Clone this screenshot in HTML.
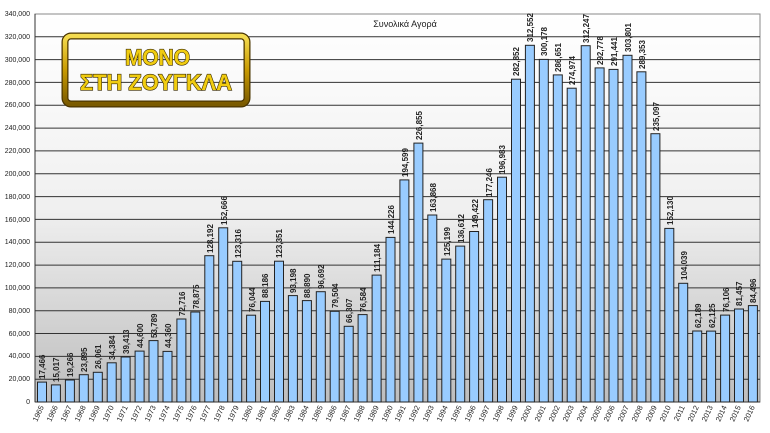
<!DOCTYPE html>
<html><head><meta charset="utf-8"><style>
body{margin:0;background:#fff;}
svg{display:block;font-family:"Liberation Sans",sans-serif;}
</style></head><body>
<svg width="770" height="433" viewBox="0 0 770 433">
<defs>
<linearGradient id="bg" x1="0" y1="0" x2="0" y2="1">
<stop offset="0" stop-color="#ffffff"/><stop offset="0.5" stop-color="#f0f0f0"/><stop offset="1" stop-color="#bdbdbd"/>
</linearGradient>
<linearGradient id="gold" x1="0" y1="0" x2="0" y2="1">
<stop offset="0" stop-color="#f5dc50"/><stop offset="0.5" stop-color="#c89a00"/><stop offset="1" stop-color="#7a5a00"/>
</linearGradient>
</defs>
<rect x="35" y="14" width="725" height="388" fill="url(#bg)" stroke="#888" stroke-width="1"/>
<g stroke="#333" stroke-width="1">
<line x1="35" y1="36.8" x2="760" y2="36.8"/><line x1="35" y1="59.6" x2="760" y2="59.6"/><line x1="35" y1="82.4" x2="760" y2="82.4"/><line x1="35" y1="105.3" x2="760" y2="105.3"/><line x1="35" y1="128.1" x2="760" y2="128.1"/><line x1="35" y1="150.9" x2="760" y2="150.9"/><line x1="35" y1="173.8" x2="760" y2="173.8"/><line x1="35" y1="196.6" x2="760" y2="196.6"/><line x1="35" y1="219.4" x2="760" y2="219.4"/><line x1="35" y1="242.2" x2="760" y2="242.2"/><line x1="35" y1="265.1" x2="760" y2="265.1"/><line x1="35" y1="287.9" x2="760" y2="287.9"/><line x1="35" y1="310.7" x2="760" y2="310.7"/><line x1="35" y1="333.5" x2="760" y2="333.5"/><line x1="35" y1="356.4" x2="760" y2="356.4"/><line x1="35" y1="379.2" x2="760" y2="379.2"/>
<line x1="35" y1="14" x2="35" y2="402"/><line x1="35" y1="402" x2="760" y2="402"/>
</g>
<g font-size="7" fill="#222" text-anchor="end">
<text x="30" y="16">340,000</text><text x="30" y="39">320,000</text><text x="30" y="62">300,000</text><text x="30" y="85">280,000</text><text x="30" y="107">260,000</text><text x="30" y="130">240,000</text><text x="30" y="153">220,000</text><text x="30" y="176">200,000</text><text x="30" y="199">180,000</text><text x="30" y="222">160,000</text><text x="30" y="244">140,000</text><text x="30" y="267">120,000</text><text x="30" y="290">100,000</text><text x="30" y="313">80,000</text><text x="30" y="336">60,000</text><text x="30" y="358">40,000</text><text x="30" y="381">20,000</text><text x="30" y="404">0</text>
</g>
<text x="405" y="27" font-size="9" text-anchor="middle" fill="#222">Συνολικά Αγορά</text>
<g fill="#99ccff" stroke="#222" stroke-width="1">
<rect x="37.5" y="382.1" width="9" height="19.9"/><rect x="51.4" y="384.9" width="9" height="17.1"/><rect x="65.4" y="380" width="9" height="22"/><rect x="79.3" y="374.7" width="9" height="27.3"/><rect x="93.3" y="372.3" width="9" height="29.7"/><rect x="107.2" y="362.8" width="9" height="39.2"/><rect x="121.1" y="357" width="9" height="45"/><rect x="135.1" y="351.1" width="9" height="50.9"/><rect x="149" y="340.6" width="9" height="61.4"/><rect x="163" y="351.4" width="9" height="50.6"/><rect x="176.9" y="319" width="9" height="83"/><rect x="190.8" y="312" width="9" height="90"/><rect x="204.8" y="255.7" width="9" height="146.3"/><rect x="218.7" y="227.8" width="9" height="174.2"/><rect x="232.7" y="261.3" width="9" height="140.7"/><rect x="246.6" y="315.2" width="9" height="86.8"/><rect x="260.5" y="301.4" width="9" height="100.6"/><rect x="274.5" y="261.2" width="9" height="140.8"/><rect x="288.4" y="295.6" width="9" height="106.4"/><rect x="302.4" y="300.6" width="9" height="101.4"/><rect x="316.3" y="291.7" width="9" height="110.3"/><rect x="330.2" y="311.3" width="9" height="90.7"/><rect x="344.2" y="326.3" width="9" height="75.7"/><rect x="358.1" y="314.6" width="9" height="87.4"/><rect x="372.1" y="275.1" width="9" height="126.9"/><rect x="386" y="237.4" width="9" height="164.6"/><rect x="399.9" y="179.9" width="9" height="222.1"/><rect x="413.9" y="143.1" width="9" height="258.9"/><rect x="427.8" y="215" width="9" height="187"/><rect x="441.8" y="259.1" width="9" height="142.9"/><rect x="455.7" y="246.1" width="9" height="155.9"/><rect x="469.6" y="231.5" width="9" height="170.5"/><rect x="483.6" y="199.7" width="9" height="202.3"/><rect x="497.5" y="177.2" width="9" height="224.8"/><rect x="511.5" y="79.2" width="9" height="322.8"/><rect x="525.4" y="45.3" width="9" height="356.7"/><rect x="539.3" y="59.4" width="9" height="342.6"/><rect x="553.3" y="74.9" width="9" height="327.1"/><rect x="567.2" y="88.2" width="9" height="313.8"/><rect x="581.2" y="45.7" width="9" height="356.3"/><rect x="595.1" y="67.9" width="9" height="334.1"/><rect x="609" y="69.4" width="9" height="332.6"/><rect x="623" y="55.3" width="9" height="346.7"/><rect x="636.9" y="71.8" width="9" height="330.2"/><rect x="650.9" y="133.7" width="9" height="268.3"/><rect x="664.8" y="228.4" width="9" height="173.6"/><rect x="678.7" y="283.3" width="9" height="118.7"/><rect x="692.7" y="331" width="9" height="71"/><rect x="706.6" y="331.1" width="9" height="70.9"/><rect x="720.6" y="315.1" width="9" height="86.9"/><rect x="734.5" y="309" width="9" height="93"/><rect x="748.4" y="305.6" width="9" height="96.4"/>
</g>
<g font-size="8" font-weight="bold" fill="#222">
<text transform="translate(45,379) rotate(-90)">17,466</text><text transform="translate(59,382) rotate(-90)">15,017</text><text transform="translate(73,377) rotate(-90)">19,266</text><text transform="translate(87,372) rotate(-90)">23,895</text><text transform="translate(101,369) rotate(-90)">26,061</text><text transform="translate(115,360) rotate(-90)">34,384</text><text transform="translate(129,354) rotate(-90)">39,413</text><text transform="translate(143,348) rotate(-90)">44,600</text><text transform="translate(157,338) rotate(-90)">53,789</text><text transform="translate(171,348) rotate(-90)">44,360</text><text transform="translate(185,316) rotate(-90)">72,716</text><text transform="translate(199,309) rotate(-90)">78,875</text><text transform="translate(213,253) rotate(-90)">128,192</text><text transform="translate(227,225) rotate(-90)">152,666</text><text transform="translate(241,258) rotate(-90)">123,316</text><text transform="translate(255,312) rotate(-90)">76,044</text><text transform="translate(268,298) rotate(-90)">88,186</text><text transform="translate(282,258) rotate(-90)">123,351</text><text transform="translate(296,293) rotate(-90)">93,198</text><text transform="translate(310,298) rotate(-90)">88,890</text><text transform="translate(324,289) rotate(-90)">96,692</text><text transform="translate(338,308) rotate(-90)">79,504</text><text transform="translate(352,323) rotate(-90)">66,307</text><text transform="translate(366,312) rotate(-90)">76,584</text><text transform="translate(380,272) rotate(-90)">111,184</text><text transform="translate(394,234) rotate(-90)">144,226</text><text transform="translate(408,177) rotate(-90)">194,599</text><text transform="translate(422,140) rotate(-90)">226,855</text><text transform="translate(436,212) rotate(-90)">163,868</text><text transform="translate(450,256) rotate(-90)">125,199</text><text transform="translate(464,243) rotate(-90)">136,612</text><text transform="translate(478,228) rotate(-90)">149,422</text><text transform="translate(492,197) rotate(-90)">177,246</text><text transform="translate(505,174) rotate(-90)">196,983</text><text transform="translate(519,76) rotate(-90)">282,852</text><text transform="translate(533,42) rotate(-90)">312,552</text><text transform="translate(547,56) rotate(-90)">300,178</text><text transform="translate(561,72) rotate(-90)">286,651</text><text transform="translate(575,85) rotate(-90)">274,974</text><text transform="translate(589,43) rotate(-90)">312,247</text><text transform="translate(603,65) rotate(-90)">292,778</text><text transform="translate(617,66) rotate(-90)">291,441</text><text transform="translate(631,52) rotate(-90)">303,801</text><text transform="translate(645,69) rotate(-90)">289,353</text><text transform="translate(659,131) rotate(-90)">235,097</text><text transform="translate(673,225) rotate(-90)">152,130</text><text transform="translate(687,280) rotate(-90)">104,039</text><text transform="translate(701,328) rotate(-90)">62,189</text><text transform="translate(715,328) rotate(-90)">62,125</text><text transform="translate(729,312) rotate(-90)">76,106</text><text transform="translate(742,306) rotate(-90)">81,457</text><text transform="translate(756,303) rotate(-90)">84,496</text>
</g>
<g font-size="7.5" fill="#222" text-anchor="end">
<text transform="translate(44,407) rotate(-65)">1965</text><text transform="translate(58,407) rotate(-65)">1966</text><text transform="translate(72,407) rotate(-65)">1967</text><text transform="translate(86,407) rotate(-65)">1968</text><text transform="translate(100,407) rotate(-65)">1969</text><text transform="translate(114,407) rotate(-65)">1970</text><text transform="translate(128,407) rotate(-65)">1971</text><text transform="translate(142,407) rotate(-65)">1972</text><text transform="translate(156,407) rotate(-65)">1973</text><text transform="translate(170,407) rotate(-65)">1974</text><text transform="translate(184,407) rotate(-65)">1975</text><text transform="translate(197,407) rotate(-65)">1976</text><text transform="translate(211,407) rotate(-65)">1977</text><text transform="translate(225,407) rotate(-65)">1978</text><text transform="translate(239,407) rotate(-65)">1979</text><text transform="translate(253,407) rotate(-65)">1980</text><text transform="translate(267,407) rotate(-65)">1981</text><text transform="translate(281,407) rotate(-65)">1982</text><text transform="translate(295,407) rotate(-65)">1983</text><text transform="translate(309,407) rotate(-65)">1984</text><text transform="translate(323,407) rotate(-65)">1985</text><text transform="translate(337,407) rotate(-65)">1986</text><text transform="translate(351,407) rotate(-65)">1987</text><text transform="translate(365,407) rotate(-65)">1988</text><text transform="translate(379,407) rotate(-65)">1989</text><text transform="translate(393,407) rotate(-65)">1990</text><text transform="translate(406,407) rotate(-65)">1991</text><text transform="translate(420,407) rotate(-65)">1992</text><text transform="translate(434,407) rotate(-65)">1993</text><text transform="translate(448,407) rotate(-65)">1994</text><text transform="translate(462,407) rotate(-65)">1995</text><text transform="translate(476,407) rotate(-65)">1996</text><text transform="translate(490,407) rotate(-65)">1997</text><text transform="translate(504,407) rotate(-65)">1998</text><text transform="translate(518,407) rotate(-65)">1999</text><text transform="translate(532,407) rotate(-65)">2000</text><text transform="translate(546,407) rotate(-65)">2001</text><text transform="translate(560,407) rotate(-65)">2002</text><text transform="translate(574,407) rotate(-65)">2003</text><text transform="translate(588,407) rotate(-65)">2004</text><text transform="translate(602,407) rotate(-65)">2005</text><text transform="translate(615,407) rotate(-65)">2006</text><text transform="translate(629,407) rotate(-65)">2007</text><text transform="translate(643,407) rotate(-65)">2008</text><text transform="translate(657,407) rotate(-65)">2009</text><text transform="translate(671,407) rotate(-65)">2010</text><text transform="translate(685,407) rotate(-65)">2011</text><text transform="translate(699,407) rotate(-65)">2012</text><text transform="translate(713,407) rotate(-65)">2013</text><text transform="translate(727,407) rotate(-65)">2014</text><text transform="translate(741,407) rotate(-65)">2015</text><text transform="translate(755,407) rotate(-65)">2016</text>
</g>
<!-- logo -->
<rect x="65" y="36" width="182" height="68" rx="6" fill="none" stroke="#4a3500" stroke-width="7"/>
<rect x="65" y="36" width="182" height="68" rx="6" fill="none" stroke="url(#gold)" stroke-width="4.5"/>
<g font-family="'Liberation Sans',sans-serif" font-weight="bold" fill="#f0cc10" stroke="#3a2a00" stroke-width="1.2" paint-order="stroke">
<text x="125" y="65" font-size="22" textLength="65" lengthAdjust="spacingAndGlyphs">ΜΟΝΟ</text>
<text x="80" y="90" font-size="22" textLength="152" lengthAdjust="spacingAndGlyphs">ΣΤΗ ΖΟΥΓΚΛΑ</text>
</g>
</svg>
</body></html>
